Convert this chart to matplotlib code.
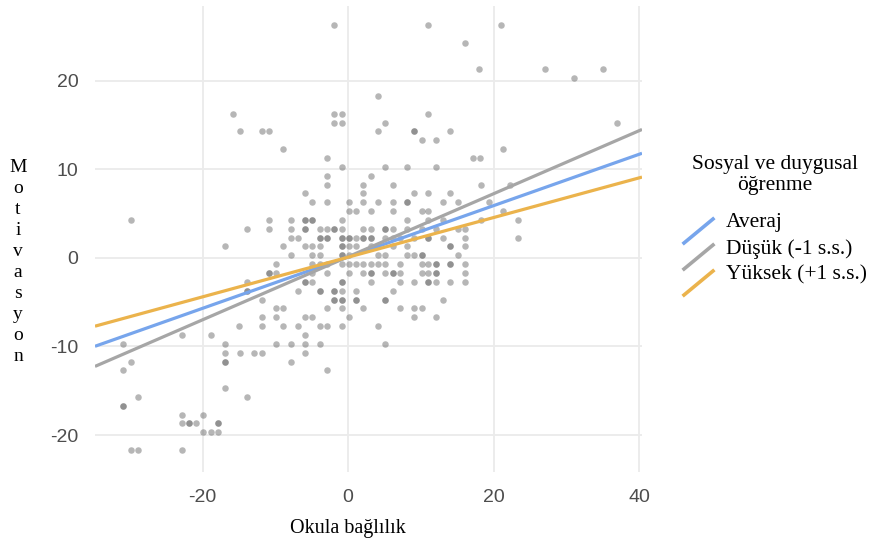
import matplotlib
matplotlib.use('Agg')
import matplotlib.pyplot as plt
from matplotlib.lines import Line2D
import numpy as np

# Scatter rows: motivation value (y) and school-attachment values (x) on that row.
# Repeated x values are overlapping observations (drawn darker).
row_y = [26.3, 24.3, 21.3, 20.3, 18.3, 16.3, 15.3, 14.3, 13.3, 12.3, 11.3, 10.3,
         9.3, 8.3, 7.3, 6.3, 5.3, 4.3, 3.3, 2.3, 1.3, 0.3, -0.7, -1.7, -2.7,
         -3.7, -4.7, -5.7, -6.7, -7.7, -8.7, -9.7, -10.7, -11.7, -12.7, -14.7,
         -15.7, -16.7, -17.7, -18.7, -19.7, -21.7]
row_x = [
    [-1.9, 11.0, 21.0],
    [16.0],
    [18.0, 27.0, 35.0],
    [31.0],
    [4.1],
    [-15.8, -1.9, -0.9, 11.0],
    [-1.9, -0.9, 5.1, 37.0],
    [-14.9, -11.9, -10.9, 4.1, 9.1, 9.1, 14.0],
    [10.1, 12.1],
    [-8.9, 21.3],
    [-2.9, 17.1, 18.1],
    [-0.9, 5.1, 8.1, 12.1],
    [-2.9, 3.1],
    [-2.9, 2.1, 6.1, 18.2, 22.3],
    [-5.9, 2.1, 9.1, 11.0, 14.0],
    [-4.9, -2.9, 0.1, 2.1, 4.1, 6.1, 8.1, 8.1, 13.0, 15.1, 19.3],
    [0.1, 1.1, 3.1, 6.1, 10.1, 11.0, 21.3],
    [-29.9, -10.9, -7.9, -5.9, -5.9, -4.9, -4.9, -0.9, 8.1, 11.0, 13.0, 18.2, 23.3],
    [-13.9, -10.9, -7.9, -5.9, -5.9, -3.9, -2.9, -1.9, -1.9, -0.9, 2.1, 3.1,
     5.1, 5.1, 6.1, 8.1, 10.1, 12.1, 15.1, 16.1],
    [-7.9, -6.9, -3.9, -3.9, -2.9, -2.9, -0.9, -0.9, 0.1, 0.1, 1.1, 2.1, 2.1,
     3.1, 3.1, 5.1, 6.1, 7.1, 9.1, 11.0, 11.0, 13.0, 16.1, 23.3],
    [-16.9, -8.9, -5.9, -4.9, -3.9, -0.9, -0.9, 0.1, 1.1, 3.1, 6.1, 8.1, 14.0, 14.0, 16.1],
    [-7.9, -4.9, -3.9, -0.9, -0.9, 0.1, 4.1, 5.1, 8.1, 9.1, 10.1, 10.1, 15.1],
    [-9.9, -4.9, -3.9, -2.9, -0.9, 0.1, 1.1, 2.1, 3.1, 4.1, 5.1, 7.1, 10.1,
     11.0, 12.1, 12.1, 14.0, 14.0, 16.1],
    [-10.9, -10.9, -9.9, -4.9, -2.9, 0.1, 2.1, 3.1, 3.1, 5.1, 6.1, 6.1, 7.1,
     10.1, 11.0, 12.1, 12.1, 16.1],
    [-13.9, -5.9, -5.9, -4.9, -0.9, -0.9, 3.1, 7.1, 9.1, 11.0, 11.0, 12.1, 14.0, 16.1],
    [-13.9, -13.9, -6.9, -3.9, -3.9, -1.9, -1.9, -0.9, 1.1, 6.1],
    [-11.9, -1.9, -1.9, -0.9, -0.9, 1.1, 1.1, 5.1, 5.1, 13.0],
    [-9.9, -8.9, -2.9, -0.9, 2.1, 7.1, 9.1, 10.1],
    [-11.9, -9.9, -5.9, -4.9, 0.1, 9.1, 12.1],
    [-15.0, -11.9, -8.9, -6.9, -3.9, -2.9, -0.9, 4.1],
    [-22.9, -18.9, -5.9],
    [-30.9, -16.9, -9.9, -7.9, -5.9, -3.9, 5.1],
    [-16.9, -14.9, -12.9, -11.9, -5.9],
    [-29.9, -16.9, -16.9, -7.9],
    [-30.9, -2.9],
    [-16.9],
    [-28.9, -13.9],
    [-30.9, -30.9],
    [-22.9, -19.9],
    [-22.9, -21.9, -21.9, -20.9, -17.9, -17.9],
    [-19.9, -18.9, -17.9],
    [-29.9, -28.9, -22.9],
]

# Simple slopes of motivation on school attachment at three moderator levels
slope_labels = ['Averaj', 'Düşük (-1 s.s.)', 'Yüksek (+1 s.s.)']
slope_b = [0.290, 0.356, 0.224]
slope_a = [0.115, 0.140, 0.090]
slope_colors = ['#77a5ec', '#a6a6a6', '#ebb34c']

x_ticks = [-20, 0, 20, 40]
y_ticks = [-20, -10, 0, 10, 20]

SERIF = 'Liberation Serif'
SANS = 'Liberation Sans'
plt.rcParams['axes.unicode_minus'] = False

fig = plt.figure(figsize=(8.74, 5.44), dpi=100)
ax = fig.add_axes([95 / 874, 1 - 472 / 544, 547 / 874, 466 / 544])

px = np.concatenate([np.array(xs) for xs in row_x])
py = np.concatenate([np.full(len(xs), y) for xs, y in zip(row_x, row_y)])
ax.scatter(px, py, s=22, color='#6e6e6e', alpha=0.5, linewidths=0, zorder=2)

x_min, x_max = -34.8, 40.4
xs = np.array([x_min, x_max])
for b, a, c in zip(slope_b, slope_a, slope_colors):
    ax.plot(xs, a + b * xs, color=c, lw=2.3, solid_capstyle='butt', zorder=3)

ax.set_xlim(x_min, x_max)
ax.set_ylim(-24.18, 28.47)
ax.set_xticks(x_ticks)
ax.set_yticks(y_ticks)
ax.grid(True, color='#ebebeb', lw=1.3, zorder=0)
ax.set_axisbelow(True)
for spine in ax.spines.values():
    spine.set_visible(False)
ax.tick_params(length=0, labelsize=14, labelcolor='#4d4d4d', pad=12)
for lab in ax.get_xticklabels() + ax.get_yticklabels():
    lab.set_fontfamily(SANS)

# axis titles
fig.text(348 / 874, 1 - 528 / 544, 'Okula bağlılık', family=SERIF, fontsize=14.5,
         ha='center', va='center')
fig.text(18 / 874, 1 - 262 / 544, '\n'.join('Motivasyon'), family=SERIF, fontsize=14,
         ha='center', va='center', linespacing=1.3, multialignment='center')

# legend with diagonal keys
fig.text(775 / 874, 1 - 175 / 544, 'Sosyal ve duygusal\nöğrenme', family=SERIF,
         fontsize=15.5, ha='center', va='center', linespacing=1.15)
for i, (lab, c) in enumerate(zip(slope_labels, slope_colors)):
    yc = 231 + i * 26
    fig.add_artist(Line2D([684 / 874, 713 / 874], [1 - (yc + 12) / 544, 1 - (yc - 12) / 544],
                          color=c, lw=2.6, transform=fig.transFigure))
    fig.text(726 / 874, 1 - (yc - 8) / 544, lab, family=SERIF, fontsize=15.5,
             ha='left', va='center')

fig.savefig('out.png', dpi=100, facecolor='white')
